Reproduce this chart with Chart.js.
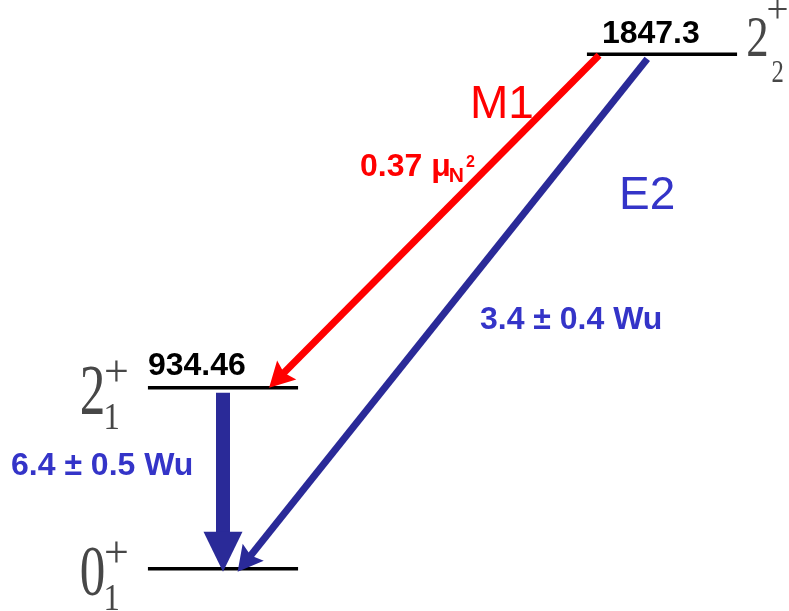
<!DOCTYPE html>
<html>
<head>
<meta charset="utf-8">
<script src="https://cdn.jsdelivr.net/npm/chart.js@4.4.1/dist/chart.umd.min.js"></script>
<style>
  html, body { margin: 0; padding: 0; background: #ffffff; }
  #wrap { width: 789px; height: 611px; }
</style>
</head>
<body>
<div id="wrap"><canvas id="scheme" width="789" height="611"></canvas></div>
<script>
// Level energies (keV) with spin, state index and parity
const levelEnergies = [0, 934.46, 1847.3];
const levelSpins = ['0', '2', '2'];
const levelSpinIndices = ['1', '1', '2'];
const levelParities = ['+', '+', '+'];

// Gamma transitions: initial and final level (indices into the level arrays)
const transitionFrom = [2, 2, 1];
const transitionTo = [1, 0, 0];
const transitionTypes = ['M1', 'E2', ''];
const transitionValues = ['0.37', '3.4 ± 0.4', '6.4 ± 0.5'];
const transitionUnits = ['μN²', 'Wu', 'Wu'];

// ---- drawing layout ----
const levelColumns = [0, 0, 1];        // column of each level on the x axis
const LEVEL_HALF_WIDTH = 0.171;         // half length of a level line, in column units

const RED = '#ff0000';
const ARROW_BLUE = '#2a2a98';
const TEXT_BLUE = '#3434c8';
const SPIN_GREY = '#474747';

// arrow geometry per transition (x in column units, gaps in px)
const arrowStyles = [
  { color: RED,        width: 7,  headLen: 25, headWidth: 27, notch: 4, startX: 0.859, endX: 0.105, startGap: 1.5, tipShift: 0 },
  { color: ARROW_BLUE, width: 7,  headLen: 25, headWidth: 27, notch: 4, startX: 0.975, endX: 0.039, startGap: 6,   tipShift: 4 },
  { color: ARROW_BLUE, width: 14, headLen: 40, headWidth: 39, notch: 0, startX: 0.0,   endX: 0.0,   startGap: 5,   tipShift: 3 }
];

// label placement relative to the middle of each transition (px)
const transitionLabelStyles = [
  { color: RED,       typeDx: 35.4,  typeDy: -103,   valueDx: -74.6, valueDy: -45 },
  { color: TEXT_BLUE, typeDx: 173.4, typeDy: -102.5, valueDx: 34.4,  valueDy: 17.9 },
  { color: TEXT_BLUE, typeDx: 0,     typeDy: 0,      valueDx: -212,  valueDy: -3.2 }
];

// energy label offset from the left end of its level line (px)
const energyLabelStyles = [
  null,
  { dx: 0, dy: -12.7 },
  { dx: 15, dy: -11 }
];

// spin-parity label placement (relative to the outer end of the level line)
const spinStyles = [
  { side: 'left',  dx: -55.5, dy: 26.3, size: 71, sx: 0.72, subDx: -36, subDy: 41.3, subSize: 38.5, subSx: 0.85, supDx: -31.5, supDy: -16.7, supSize: 44 },
  { side: 'left',  dx: -55.5, dy: 26.3, size: 71, sx: 0.72, subDx: -36, subDy: 41.3, subSize: 38.5, subSx: 0.85, supDx: -31.5, supDy: -16.7, supSize: 44 },
  { side: 'right', dx: 20,    dy: 1.8,  size: 56, sx: 0.80, subDx: 40.5, subDy: 27.8, subSize: 32.5, subSx: 0.76, supDx: 40.5, supDy: -45.2, supSize: 39 }
];

// ---- a linear scale that spreads values as value^exponent (level scheme not to scale) ----
class PowerScale extends Chart.LinearScale {
  _pw(v) { const p = this.options.exponent || 1; return Math.sign(v) * Math.pow(Math.abs(v), p); }
  getPixelForValue(value) {
    if (value === null || value === undefined || isNaN(value)) return NaN;
    const t = (this._pw(value) - this._pw(this.min)) / (this._pw(this.max) - this._pw(this.min));
    return this.getPixelForDecimal(t);
  }
  getValueForPixel(pixel) {
    const p = this.options.exponent || 1;
    const t = this.getDecimalForPixel(pixel);
    const w = this._pw(this.min) + t * (this._pw(this.max) - this._pw(this.min));
    return Math.sign(w) * Math.pow(Math.abs(w), 1 / p);
  }
}
PowerScale.id = 'power';
PowerScale.defaults = Chart.LinearScale.defaults;
Chart.register(PowerScale);

// ---- datasets ----
const levelDatasets = levelEnergies.map((e, i) => ({
  label: 'level ' + e,
  data: [
    { x: levelColumns[i] - LEVEL_HALF_WIDTH, y: e },
    { x: levelColumns[i] + LEVEL_HALF_WIDTH, y: e }
  ],
  borderColor: '#000000',
  borderWidth: 3.5,
  borderCapStyle: 'butt',
  pointRadius: 0,
  fill: false,
  clip: false
}));

const transitionDatasets = transitionFrom.map((from, k) => ({
  label: transitionTypes[k] || 'transition',
  isTransition: true,
  transitionIndex: k,
  data: [
    { x: arrowStyles[k].startX, y: levelEnergies[from] },
    { x: arrowStyles[k].endX,   y: levelEnergies[transitionTo[k]] }
  ],
  showLine: false,
  pointRadius: 0,
  clip: false
}));

// ---- arrows drawn from the dataset points placed by the scales ----
const arrowPlugin = {
  id: 'arrows',
  afterDatasetsDraw(chart) {
    const ctx = chart.ctx;
    chart.data.datasets.forEach((ds, di) => {
      if (!ds.isTransition) return;
      const st = arrowStyles[ds.transitionIndex];
      const pts = chart.getDatasetMeta(di).data;
      const p0 = pts[0], p1 = pts[1];
      let dx = p1.x - p0.x, dy = p1.y - p0.y;
      const len = Math.hypot(dx, dy);
      dx /= len; dy /= len;
      const nx = -dy, ny = dx;
      const sx = p0.x + dx * st.startGap, sy = p0.y + dy * st.startGap;
      const tx = p1.x + dx * st.tipShift, ty = p1.y + dy * st.tipShift;
      const bx = tx - dx * st.headLen, by = ty - dy * st.headLen;
      ctx.save();
      ctx.strokeStyle = st.color;
      ctx.fillStyle = st.color;
      ctx.lineWidth = st.width;
      ctx.lineCap = 'butt';
      ctx.beginPath();
      ctx.moveTo(sx, sy);
      ctx.lineTo(bx + dx * (st.notch + 1), by + dy * (st.notch + 1));
      ctx.stroke();
      const hw = st.headWidth / 2;
      ctx.beginPath();
      ctx.moveTo(tx, ty);
      ctx.lineTo(bx + nx * hw, by + ny * hw);
      ctx.lineTo(bx + dx * st.notch, by + dy * st.notch);
      ctx.lineTo(bx - nx * hw, by - ny * hw);
      ctx.closePath();
      ctx.fill();
      ctx.restore();
    });
  }
};

// ---- texts: energies, spins, multipolarities and strengths ----
function drawInk(ctx, text, cx, baseline, sx) {
  const m = ctx.measureText(text);
  const inkMid = (m.actualBoundingBoxRight - m.actualBoundingBoxLeft) / 2;
  ctx.save();
  ctx.translate(cx, baseline);
  ctx.scale(sx, 1);
  ctx.textAlign = 'left';
  ctx.textBaseline = 'alphabetic';
  ctx.fillText(text, -inkMid, 0);
  ctx.restore();
}
function drawInkCentered(ctx, text, cx, cy) {
  const m = ctx.measureText(text);
  const inkMidX = (m.actualBoundingBoxRight - m.actualBoundingBoxLeft) / 2;
  const inkMidY = (m.actualBoundingBoxAscent - m.actualBoundingBoxDescent) / 2;
  ctx.textAlign = 'left';
  ctx.textBaseline = 'alphabetic';
  ctx.fillText(text, cx - inkMidX, cy + inkMidY);
}

const SANS = '"Liberation Sans", Arial, sans-serif';
const SERIF = '"Liberation Serif", "Times New Roman", serif';

const labelPlugin = {
  id: 'schemeLabels',
  afterDraw(chart) {
    const ctx = chart.ctx;
    const xs = chart.scales.x, ys = chart.scales.y;
    ctx.save();

    // level energies and spin-parity
    levelEnergies.forEach((e, i) => {
      const y = ys.getPixelForValue(e);
      const xl = xs.getPixelForValue(levelColumns[i] - LEVEL_HALF_WIDTH);
      const xr = xs.getPixelForValue(levelColumns[i] + LEVEL_HALF_WIDTH);
      const es = energyLabelStyles[i];
      if (es) {
        ctx.fillStyle = '#000000';
        ctx.font = 'bold 32px ' + SANS;
        ctx.textAlign = 'left';
        ctx.textBaseline = 'alphabetic';
        ctx.fillText(String(e), xl + es.dx, y + es.dy);
      }
      const s = spinStyles[i];
      const ax = s.side === 'left' ? xl : xr;
      ctx.fillStyle = SPIN_GREY;
      ctx.font = s.size + 'px ' + SERIF;
      drawInk(ctx, levelSpins[i], ax + s.dx, y + s.dy, s.sx);
      ctx.font = s.subSize + 'px ' + SERIF;
      drawInk(ctx, levelSpinIndices[i], ax + s.subDx, y + s.subDy, s.subSx);
      ctx.font = s.supSize + 'px ' + SERIF;
      drawInkCentered(ctx, levelParities[i], ax + s.supDx, y + s.supDy);
    });

    // transition labels
    chart.data.datasets.forEach((ds, di) => {
      if (!ds.isTransition) return;
      const k = ds.transitionIndex;
      const ls = transitionLabelStyles[k];
      const pts = chart.getDatasetMeta(di).data;
      const mx = (pts[0].x + pts[1].x) / 2, my = (pts[0].y + pts[1].y) / 2;
      ctx.fillStyle = ls.color;
      ctx.textAlign = 'left';
      ctx.textBaseline = 'alphabetic';
      if (transitionTypes[k]) {
        ctx.font = '46px ' + SANS;
        ctx.fillText(transitionTypes[k], mx + ls.typeDx, my + ls.typeDy);
      }
      const vx = mx + ls.valueDx, vy = my + ls.valueDy;
      const unit = transitionUnits[k];
      ctx.font = 'bold 32px ' + SANS;
      if (unit === 'μN²') {
        // nuclear magneton squared: μ with subscript N and superscript 2
        const head = transitionValues[k] + ' μ';
        ctx.fillText(head, vx, vy);
        let cx = vx + ctx.measureText(head).width - 2;
        ctx.font = 'bold 21px ' + SANS;
        ctx.fillText('N', cx, vy + 6);
        cx += ctx.measureText('N').width + 2;
        ctx.font = 'bold 16px ' + SANS;
        ctx.fillText('2', cx, vy - 9);
      } else {
        ctx.fillText(transitionValues[k] + ' ' + unit, vx, vy);
      }
    });
    ctx.restore();
  }
};

new Chart(document.getElementById('scheme'), {
  type: 'line',
  data: { datasets: levelDatasets.concat(transitionDatasets) },
  options: {
    responsive: false,
    devicePixelRatio: 1,
    animation: false,
    events: [],
    layout: { padding: { left: 223, right: 127, top: 54.2, bottom: 42.3 } },
    plugins: { legend: { display: false }, tooltip: { enabled: false }, title: { display: false } },
    scales: {
      x: { type: 'linear', min: 0, max: 1, display: false },
      y: { type: 'power', exponent: 1.533, min: 0, max: 1847.3, display: false }
    }
  },
  plugins: [arrowPlugin, labelPlugin]
});
</script>
</body>
</html>
